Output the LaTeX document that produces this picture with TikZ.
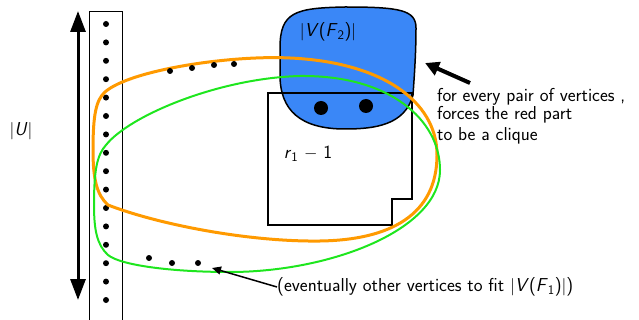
\documentclass[tikz,border=0pt]{standalone}
\usepackage{tikz}
\usetikzlibrary{arrows.meta}
\definecolor{blobblue}{HTML}{3A87F7}
\definecolor{setorange}{HTML}{FF9A00}
\definecolor{setgreen}{HTML}{1EE61E}

\begin{document}
\begin{tikzpicture}[x=1pt,y=-1pt,font=\sffamily\fontsize{18.7}{20}\selectfont,
  vdot/.style={circle,fill=black,inner sep=0pt,minimum size=6pt},
  bigdot/.style={circle,fill=black,inner sep=0pt,minimum size=14pt},
  note/.style={anchor=north west,inner sep=0pt,align=left,font=\sffamily\fontsize{18.7}{16}\selectfont},
  orangeset/.style={draw=setorange,line width=3pt},
  greenset/.style={draw=setgreen,line width=2pt}]
\useasboundingbox (0,0) rectangle (639,320);
% column of U
\node[draw,line width=1.2pt,minimum width=33pt,minimum height=320pt,anchor=north west,inner sep=0pt] (col) at (89,11) {};
\foreach \i in {0,...,15}
  \node[vdot] (u\i) at (106,24+18.4*\i) {};
\coordinate (utop) at (78,11);
\coordinate (ubot) at (78,300);
\draw[{Triangle[length=21pt,width=15pt]}-{Triangle[length=21pt,width=15pt]},line width=3pt] (utop) -- (ubot);
\node (ulabel) at (21,131) {$|$\textit{U}$|$};
% blob V(F2)
\draw[fill=blobblue,line width=1.5pt] (280,48) .. controls (280,12) and (295,8) .. (345,7)
  .. controls (400,7) and (416,10) .. (416,28) .. controls (416,55) and (414,80) .. (413,95)
  .. controls (405,125) and (375,129) .. (345,129) .. controls (300,129) and (280,110) .. (280,75) -- cycle;
\node (vlabel) at (328,32) {$|$\textit{V}(\textit{F}\textsubscript{2})$|$};
% red part
\draw[line width=1.5pt] (268,93) -- (412,93) -- (412,199) -- (392,199) -- (392,225) -- (268,225) -- cycle;
\node (rlabel) at (308,154) {\textit{r}\textsubscript{1} $-$ 1};
\node[bigdot] (w1) at (321,108) {};
\node[bigdot] (w2) at (366,106) {};
% the two sets
\draw[orangeset] (93,150) .. controls (93,115) and (96,100) .. (105,92)
  .. controls (130,70) and (230,55) .. (290,58) .. controls (380,62) and (437,100) .. (437,155)
  .. controls (437,215) and (390,240) .. (320,241) .. controls (250,242) and (160,225) .. (108,205)
  .. controls (97,195) and (93,180) .. (93,150);
\draw[greenset] (94,205) .. controls (94,170) and (97,155) .. (106,145)
  .. controls (130,115) and (220,78) .. (300,76) .. controls (390,75) and (440,120) .. (440,170)
  .. controls (440,230) and (330,272) .. (230,272) .. controls (170,272) and (120,265) .. (108,255)
  .. controls (97,245) and (94,230) .. (94,205);
\foreach \x/\y [count=\i] in {170/71,192/68,214/65,234/64}
  \node[vdot] (o\i) at (\x,\y) {};
\foreach \x/\y [count=\i] in {149/258,172/263,198/263}
  \node[vdot] (g\i) at (\x,\y) {};
% notes
\coordinate (blobpt) at (425,63);
\coordinate (tailpt) at (470,83);
\draw[-{Triangle[length=14pt,width=14pt]},line width=4pt] (tailpt) -- (blobpt);
\node[note] (clique) at (437,88) {for every pair of vertices ,\\ forces the red part\\[4pt] to be a clique};
\node[anchor=west,inner sep=0pt] (fitnote) at (277,287) {(eventually other vertices to fit $|$\textit{V}(\textit{F}\textsubscript{1})$|$)};
\coordinate (fitpt) at (212,268);
\draw[-{Triangle[length=9pt,width=8pt]},line width=1.5pt] (fitnote.west) -- (fitpt);
\end{tikzpicture}
\end{document}
